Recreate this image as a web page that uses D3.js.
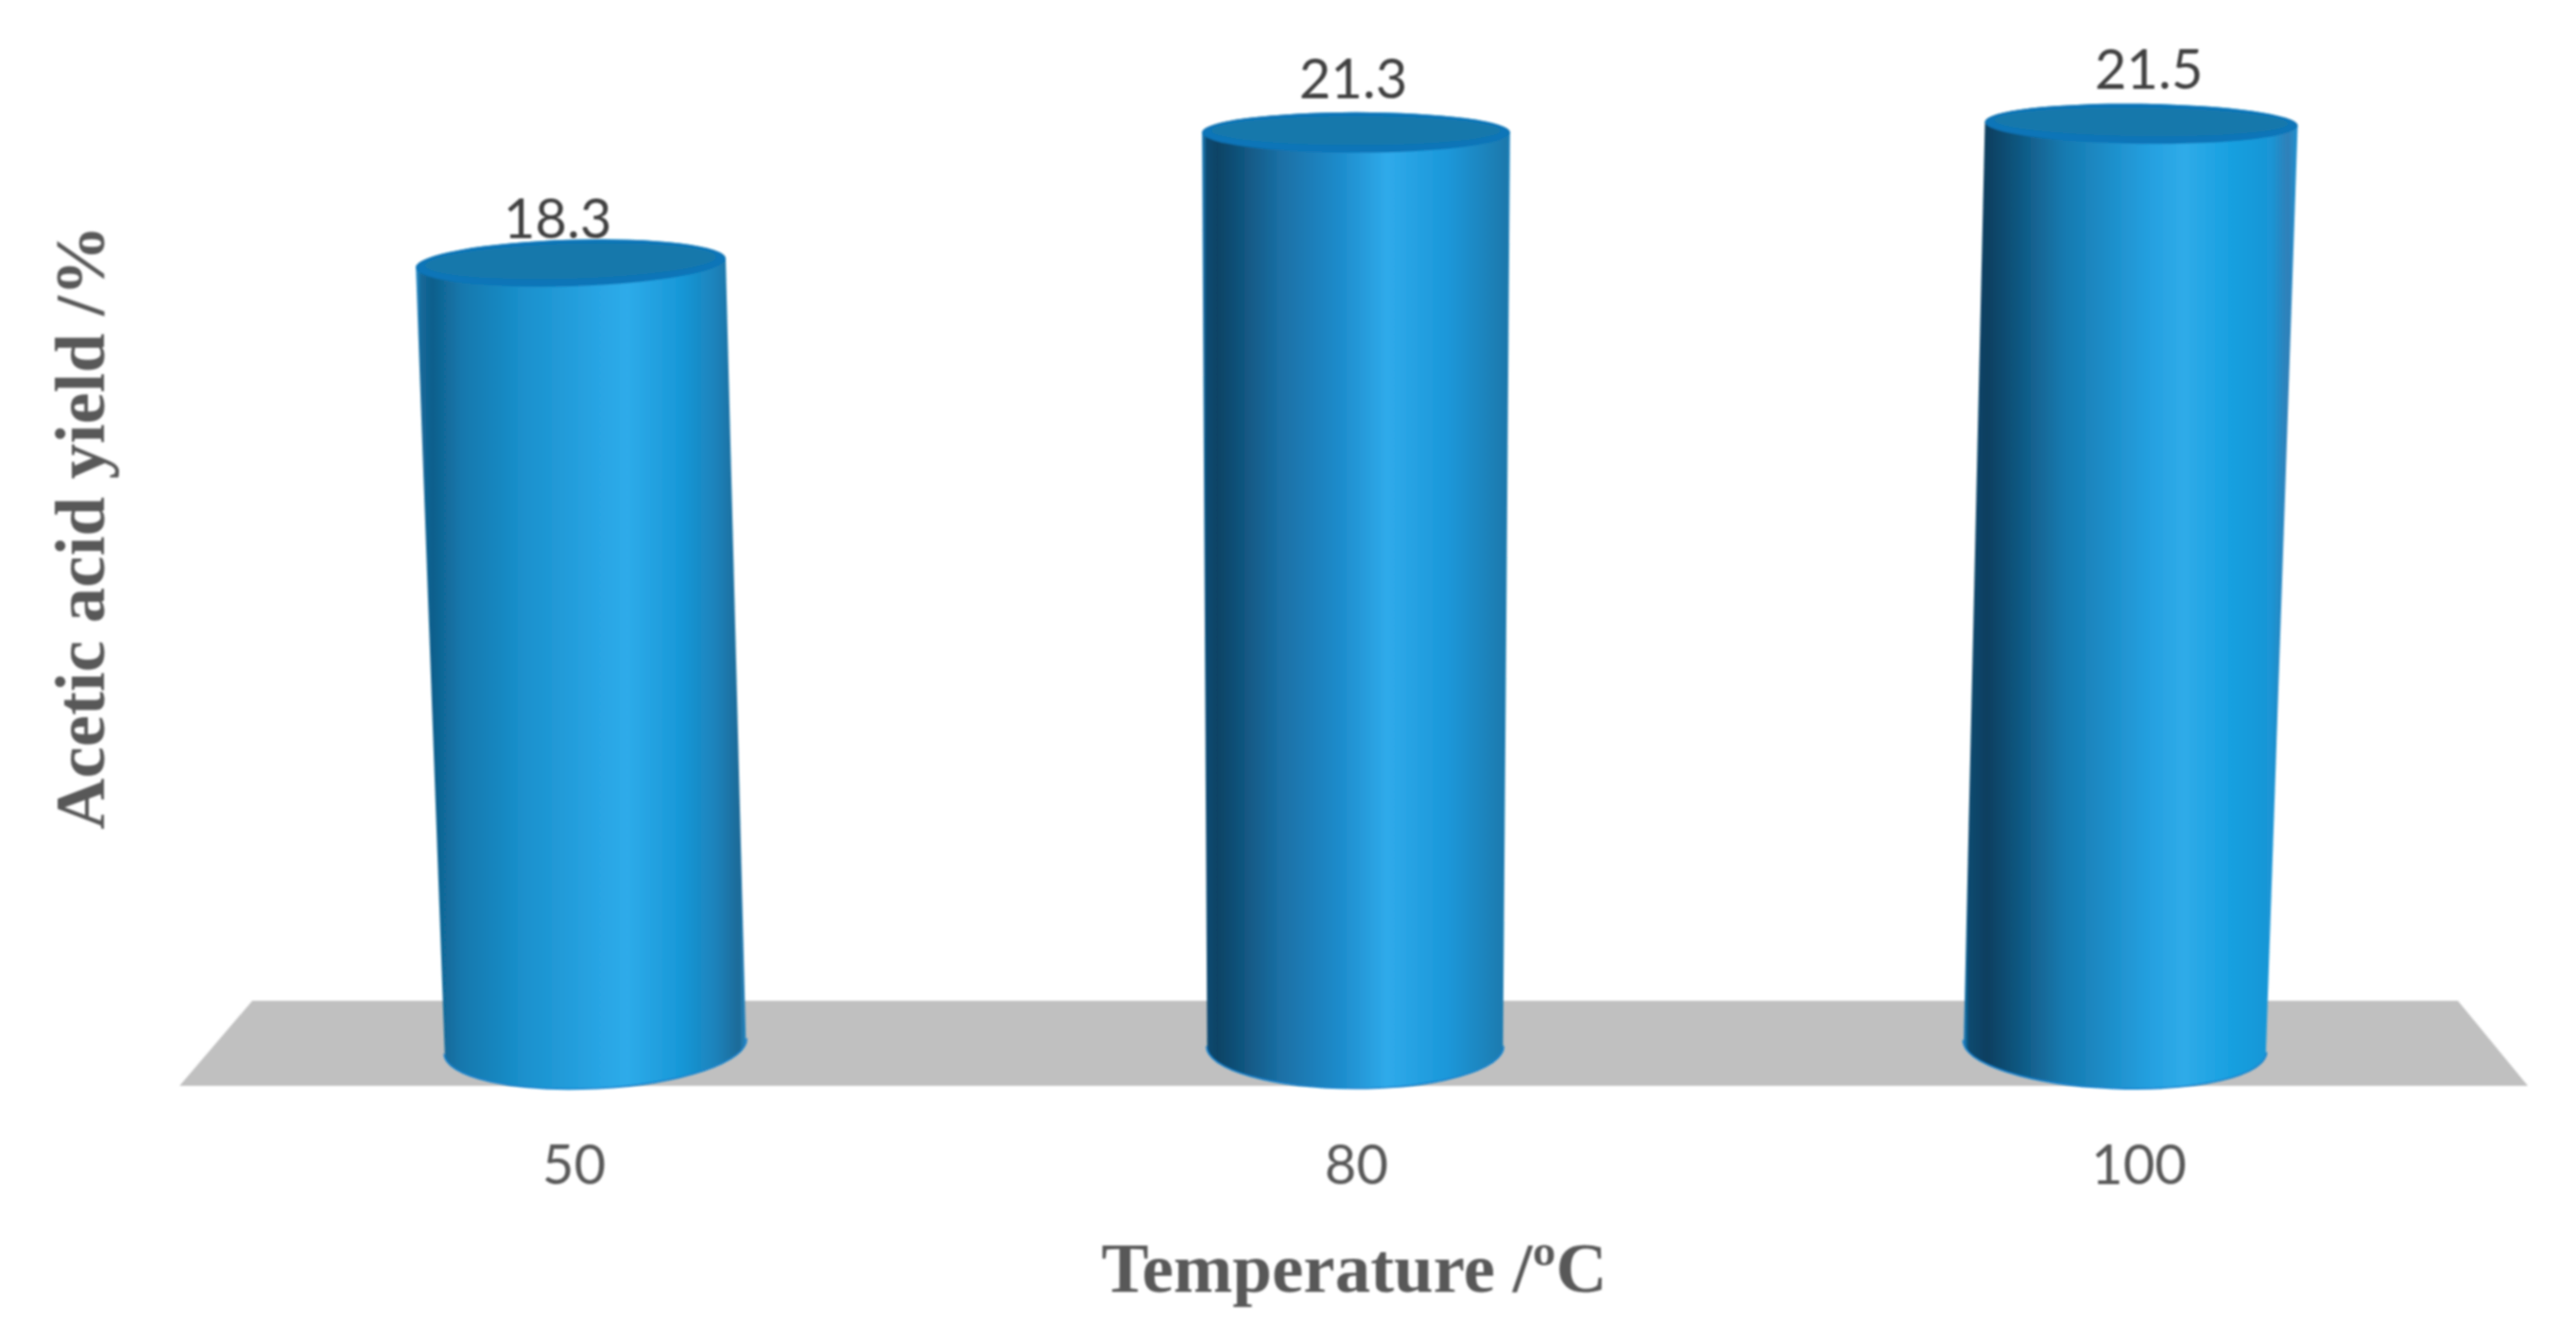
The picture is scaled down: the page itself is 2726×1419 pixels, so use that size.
<!DOCTYPE html>
<html><head><meta charset="utf-8">
<script src="https://cdnjs.cloudflare.com/ajax/libs/d3/7.8.5/d3.min.js"></script>
<style>html,body{margin:0;background:#fff}svg{display:block}</style>
</head><body><div id="c"></div>
<script>
const categories = ["50", "80", "100"];
const values = [18.3, 21.3, 21.5];
const xTitle = "Temperature /ºC";
const yTitle = "Acetic acid yield /%";

const W = 2726, H = 1419;
const svg = d3.select("#c").append("svg").attr("width", W).attr("height", H);
const defs = svg.append("defs");
defs.append("filter").attr("id","soft").attr("x","-5%").attr("y","-5%").attr("width","110%").attr("height","110%")
  .append("feGaussianBlur").attr("stdDeviation",1.3);
defs.append("filter").attr("id","softText").attr("x","-5%").attr("y","-5%").attr("width","110%").attr("height","110%")
  .append("feGaussianBlur").attr("stdDeviation",0.9);

// scales: the picture is a 3-D projection, so base, rim, labels each have their own range
const xBase = d3.scalePoint().domain(categories).range([630, 2238]);
const xTop  = d3.scalePoint().domain(categories).range([604, 2266]);
const xVal  = d3.scalePoint().domain(categories).range([590, 2274]);
const xTick = d3.scalePoint().domain(categories).range([607, 2263]);
const y     = d3.scaleLinear().domain([0, 21.5]).range([1121, 131]);
const yVal  = d3.scaleLinear().domain([18.3, 21.5]).range([252, 94]);
const ryOf  = d3.scaleLinear().domain([125, 1107]).range([21, 44]);

const baseY = 1107, floorTop = 1059, floorBot = 1149;
const tiltBase = [-2.9, 0, 2.3], tiltTop = [-1.7, 0, 0.7];
const rxBase = [159.5, 156.5, 160], rxTop = [164, 163, 165.5];

const shades = [
 [[0,"#2a8fcc"],[.015,"#14699a"],[.05,"#0f5f8c"],[.14,"#1578ad"],[.32,"#1a90cc"],[.55,"#28a4e3"],[.64,"#2eabe9"],[.8,"#1898d8"],[.91,"#1b82ba"],[.98,"#1c6a98"],[1,"#2a88c4"]],
 [[0,"#2285c4"],[.015,"#0c4a72"],[.05,"#0b4365"],[.25,"#1a6fa4"],[.45,"#1d8ccc"],[.6,"#2faaea"],[.8,"#1a97d9"],[.95,"#1b7fb5"],[.99,"#1c78ac"],[1,"#2a8cc5"]],
 [[0,"#1a80c0"],[.015,"#0a4a70"],[.07,"#0c3f60"],[.3,"#167ab0"],[.55,"#249fdf"],[.66,"#2fabe8"],[.8,"#18a0e0"],[.92,"#1a95d5"],[.97,"#3080b8"],[1,"#2090d0"]]
];
shades.forEach((st,i)=>{
  const g = defs.append("linearGradient").attr("id","cyl"+i)
    .attr("x1","0").attr("x2","1").attr("y1","0").attr("y2","0");
  st.forEach(s=>g.append("stop").attr("offset",s[0]).attr("stop-color",s[1]));
});

// floor
const fl = d3.line();
svg.append("path").attr("d", fl([[267,floorTop],[2601,floorTop],[2675,floorBot],[190,floorBot]])+"Z")
  .attr("fill","#c0c0c0").attr("filter","url(#softText)");

const cyl = svg.append("g").attr("filter","url(#soft)");
const rad = d=>d*Math.PI/180;
categories.forEach((c,i)=>{
  const v = values[i];
  const tx = xTop(c), ty = y(v), bx = xBase(c), by = baseY;
  const trx = rxTop[i], bry = ryOf(by), tr = ryOf(ty);
  const tt = tiltTop[i], bt = tiltBase[i];
  const TL=[tx-trx*Math.cos(rad(tt)), ty-trx*Math.sin(rad(tt))];
  const TR=[tx+trx*Math.cos(rad(tt)), ty+trx*Math.sin(rad(tt))];
  const BL=[bx-rxBase[i]*Math.cos(rad(bt)), by-rxBase[i]*Math.sin(rad(bt))];
  const BR=[bx+rxBase[i]*Math.cos(rad(bt)), by+rxBase[i]*Math.sin(rad(bt))];
  // bright lower edge of the base, drawn first so only its outer half shows
  cyl.append("path").attr("d",`M${BL} A${rxBase[i]} ${bry} ${bt} 0 0 ${BR}`)
    .attr("fill","none").attr("stroke","#0f7fce").attr("stroke-width",3);
  const body = `M${TL} L${BL} A${rxBase[i]} ${bry} ${bt} 0 0 ${BR} L${TR} A${trx} ${tr} ${tt} 0 0 ${TL} Z`;
  cyl.append("path").attr("d",body).attr("fill",`url(#cyl${i})`);
  // top cap: rim and darker inner face
  const top = `M${TL} A${trx} ${tr} ${tt} 0 0 ${TR} A${trx} ${tr} ${tt} 0 0 ${TL} Z`;
  cyl.append("path").attr("d",top).attr("fill","#0a75b8");
  cyl.append("ellipse").attr("cx",tx).attr("cy",ty-2).attr("rx",trx-10).attr("ry",tr-6)
    .attr("transform",`rotate(${tt} ${tx} ${ty})`).attr("fill","#1578ab");
});

const sans = "Lato, 'Open Sans', sans-serif", serif = "'Liberation Serif', serif";

// value labels
svg.append("g").attr("filter","url(#softText)").selectAll("text").data(categories).join("text")
  .attr("x",d=>xVal(d)).attr("y",(d,i)=>yVal(values[i]))
  .attr("text-anchor","middle").attr("font-family",sans).attr("font-size",58).attr("fill","#404040")
  .text((d,i)=>values[i].toFixed(1));

// x axis labels
const ax = svg.append("g").attr("transform","translate(0,1253)")
  .call(d3.axisBottom(xTick).tickSize(0).tickPadding(0));
ax.select(".domain").remove();
ax.selectAll("text").attr("y",0).attr("dy",0)
  .attr("font-family",sans).attr("font-size",58).attr("fill","#595959").attr("filter","url(#softText)");

// titles
svg.append("text").attr("x",1433).attr("y",1367).attr("text-anchor","middle")
  .attr("font-family",serif).attr("font-weight","bold").attr("font-size",75).attr("fill","#595959")
  .attr("filter","url(#softText)").text(xTitle);
svg.append("text").attr("transform","translate(110,558) rotate(-90)").attr("text-anchor","middle")
  .attr("font-family",serif).attr("font-weight","bold").attr("font-size",75).attr("fill","#595959")
  .attr("filter","url(#softText)").text(yTitle);
</script></body></html>
